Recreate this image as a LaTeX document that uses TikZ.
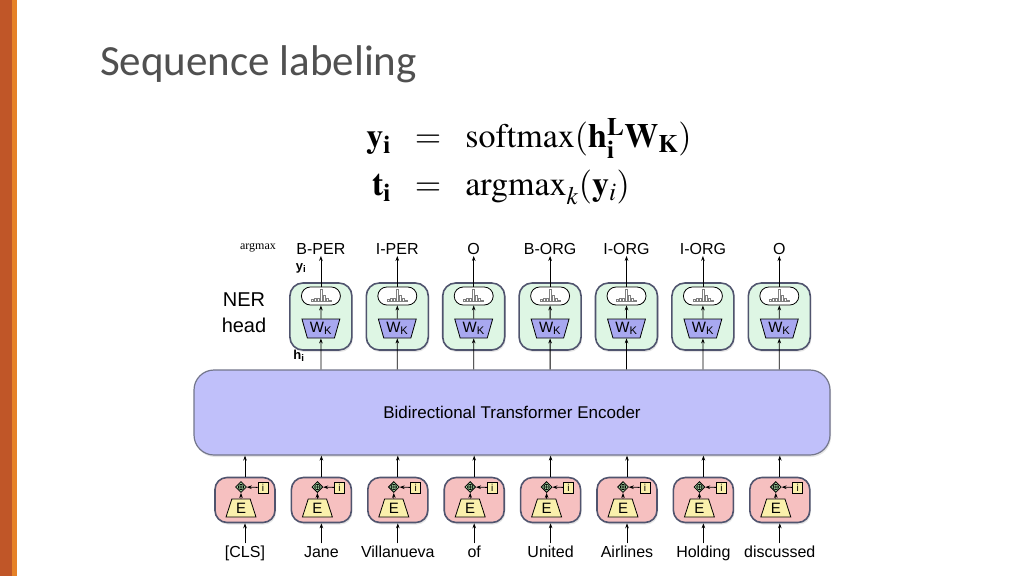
\documentclass[tikz,border=0pt]{standalone}
\usepackage{mathptmx}
\usepackage[no-math]{fontspec}
\setmainfont{Liberation Serif}
\newfontfamily\diagfont{Liberation Sans}
\newfontfamily\titlefont{Carlito}
\usetikzlibrary{arrows.meta,positioning,shapes.geometric,shadows}
\definecolor{barorange}{RGB}{192,86,40}
\definecolor{barlight}{RGB}{230,130,40}
\definecolor{titlegray}{RGB}{80,80,80}
\definecolor{headgreen}{RGB}{222,246,228}
\definecolor{projblue}{RGB}{168,168,240}
\definecolor{encblue}{RGB}{192,192,250}
\definecolor{embpink}{RGB}{246,192,192}
\definecolor{embyellow}{RGB}{250,240,172}
\definecolor{addgreen}{RGB}{160,210,160}
\definecolor{edgegray}{RGB}{80,84,110}
\tikzset{
  headbox/.style={rectangle, rounded corners=13pt, draw=edgegray, line width=1.6pt, fill=headgreen,
                  minimum width=62pt, minimum height=67pt, drop shadow={opacity=0.2, shadow xshift=1pt, shadow yshift=-2pt}},
  dist/.style={rectangle, rounded corners=9pt, draw, line width=0.8pt, fill=white, minimum width=39pt, minimum height=18pt},
  wk/.style={trapezium, trapezium stretches=true, shape border rotate=180, trapezium left angle=71,
             trapezium right angle=71, draw, line width=0.8pt, fill=projblue, minimum width=38pt, minimum height=19pt,
             inner sep=0pt, font=\diagfont\fontsize{15}{15}\selectfont},
  embbox/.style={rectangle, rounded corners=12pt, draw=edgegray, line width=1.6pt, fill=embpink,
                 minimum width=60pt, minimum height=45pt, drop shadow={opacity=0.2, shadow xshift=1pt, shadow yshift=-2pt}},
  emb/.style={trapezium, trapezium stretches=true, trapezium left angle=73, trapezium right angle=73, draw,
              line width=0.8pt, fill=embyellow, minimum width=30pt, minimum height=18pt, inner sep=0pt,
              font=\diagfont\fontsize{15}{15}\selectfont},
  addop/.style={diamond, draw, line width=0.8pt, fill=addgreen, minimum size=11pt, inner sep=0pt,
                path picture={\draw[line width=0.6pt] (path picture bounding box.center) circle (2.8pt)
                  ([yshift=3pt]path picture bounding box.center) -- ([yshift=-3pt]path picture bounding box.center)
                  ([xshift=-3pt]path picture bounding box.center) -- ([xshift=3pt]path picture bounding box.center);}},
  posn/.style={rectangle, draw, line width=0.8pt, fill=embyellow, minimum width=10pt, minimum height=11pt,
               inner sep=0pt, font=\diagfont\fontsize{10}{10}\selectfont},
  arr/.style={-{Stealth[length=5pt,width=3.6pt]}, line width=0.8pt},
  tag/.style={font=\diagfont\fontsize{16}{16}\selectfont, inner sep=1pt, text height=11.5pt, text depth=0pt},
  word/.style={font=\diagfont\fontsize{16}{16}\selectfont, inner sep=2pt, text height=11.5pt, text depth=3.5pt},
  encoder/.style={rectangle, rounded corners=20pt, draw=edgegray!80, line width=1.2pt, fill=encblue,
                  minimum width=636pt, minimum height=85pt, font=\diagfont\fontsize{17}{17}\selectfont,
                  drop shadow={opacity=0.2, shadow xshift=1pt, shadow yshift=-2pt}},
}

\begin{document}
\begin{tikzpicture}[x=1pt, y=-1pt]
\useasboundingbox[fill=white] (0,0) rectangle (1024,576);
% side bar and title
\fill[barorange] (0,0) rectangle (12,576);
\fill[barlight] (12,0) rectangle (17,576);
\node[anchor=base west, inner sep=0pt, text=titlegray, font=\titlefont\fontsize{43}{43}\selectfont] (ttl) at (100,75) {Sequence labeling};
\node[font=\fontsize{34}{48}\selectfont] (eqn) at (529,162)
  {\setlength{\arraycolsep}{12pt}$\begin{array}{rcl}
    \mathbf{y_i} & = & \mathrm{softmax}(\mathbf{h_i^L W_K}) \\
    \mathbf{t_i} & = & \mathrm{argmax}_k(\mathbf{y}_i)
  \end{array}$};

% encoder
\node[encoder] (enc) at (512,412.5) {Bidirectional Transformer Encoder};

% NER head, one per token
\foreach \k/\tg in {1/B-PER, 2/I-PER, 3/O, 4/B-ORG, 5/I-ORG, 6/I-ORG, 7/O} {
  \node[headbox] (hd\k) at ({244.5+76.4*\k},316.5) {};
  \node[dist] (sm\k) at ({244.5+76.4*\k},296) {};
  \foreach \dx/\h in {-9/2,-6/3,-3/3,0/12,3/6,6/3,9/1}
    \draw[gray, line width=0.5pt] ([shift={(\dx-1,5)}]sm\k.center) rectangle ++(2,-\h);
  \node[wk] (wk\k) at ({244.5+76.4*\k},328.5) {W\textsubscript{K}};
  \node[tag] (tg\k) at ({244.5+76.4*\k},249) {\tg};
  \draw[arr] (enc.north -| wk\k.center) -- (wk\k);
  \draw[arr] (wk\k) -- (sm\k);
  \draw[arr] (sm\k) -- (tg\k);
}
\node[font=\fontsize{12}{12}\selectfont] (amx) at (258,248) {argmax};
\node[font=\diagfont\bfseries\fontsize{13}{13}\selectfont] (ylab) at (301,268) {y\textsubscript{i}};
\node[font=\diagfont\bfseries\fontsize{13}{13}\selectfont] (hlab) at (299,356) {h\textsubscript{i}};
\node[align=center, font=\diagfont\fontsize{20}{26}\selectfont] (ner) at (244,313) {NER\\head};

% embeddings of the input tokens
\foreach \k/\tok in {0/{[CLS]}, 1/Jane, 2/Villanueva, 3/of, 4/United, 5/Airlines, 6/Holding, 7/discussed} {
  \node[embbox] (eb\k) at ({245+76.4*\k},500) {};
  \node[emb] (em\k) at ({241+76.4*\k},508) {E};
  \node[addop] (ad\k) at ({241+76.4*\k},487) {};
  \node[posn] (ps\k) at ({263+76.4*\k},487.5) {i};
  \node[word] (wd\k) at ({245+76.4*\k},553) {\tok};
  \draw[arr] (wd\k) -- (eb\k);
  \draw[arr] (em\k) -- (ad\k);
  \draw[arr] (ps\k) -- (ad\k);
  \draw[arr] (eb\k) -- (enc.south -| eb\k.center);
}
\end{tikzpicture}
\end{document}
